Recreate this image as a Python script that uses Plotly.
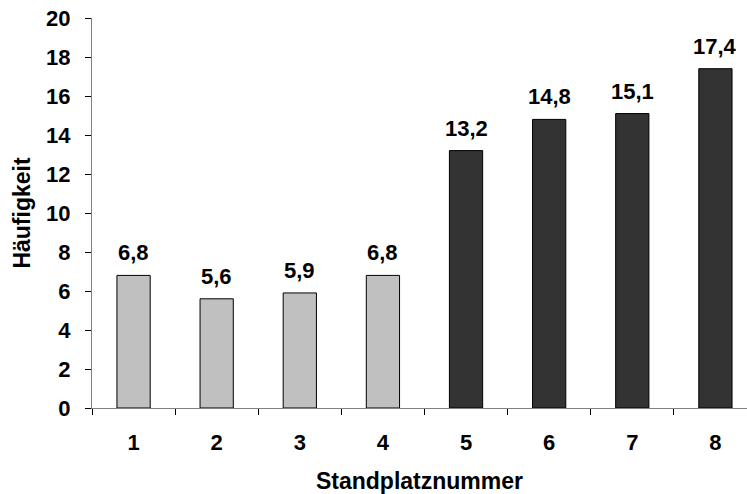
import plotly.graph_objects as go

# Frequency per stand position
positions = ["1", "2", "3", "4", "5", "6", "7", "8"]
frequency = [6.8, 5.6, 5.9, 6.8, 13.2, 14.8, 15.1, 17.4]
bar_colors = ["#C0C0C0"] * 4 + ["#333333"] * 4

FONT = "Arial, 'Liberation Sans', sans-serif"

fig = go.Figure(
    go.Bar(
        x=positions,
        y=frequency,
        marker=dict(color=bar_colors, line=dict(color="#000000", width=1)),
    )
)

# value labels above each bar, comma as decimal separator
for idx, val in enumerate(frequency):
    fig.add_annotation(
        x=idx,
        y=val,
        text=f"{val:.1f}".replace(".", ","),
        showarrow=False,
        yanchor="bottom",
        yshift=8,
        font=dict(family=FONT, size=22, color="#000000", weight="bold"),
    )

fig.update_layout(
    width=747,
    height=494,
    margin=dict(l=92, r=0, t=18, b=86),
    paper_bgcolor="white",
    plot_bgcolor="white",
    bargap=0.6,
    showlegend=False,
    font=dict(family=FONT, color="#000000"),
)

fig.update_xaxes(
    type="category",
    range=[-0.5, 7.38],
    showline=True,
    linecolor="#808080",
    linewidth=1,
    ticks="outside",
    tickson="boundaries",
    ticklen=6,
    tickcolor="#000000",
    tickfont=dict(family=FONT, size=22, color="#000000", weight="bold"),
    ticklabelstandoff=15,
    showgrid=False,
    title=dict(text="Standplatznummer", font=dict(family=FONT, size=23, weight="bold"), standoff=22),
)

fig.update_yaxes(
    range=[0, 20],
    dtick=2,
    showline=True,
    linecolor="#808080",
    linewidth=1,
    ticks="outside",
    ticklen=6,
    tickcolor="#000000",
    tickfont=dict(family=FONT, size=22, color="#000000", weight="bold"),
    ticklabelstandoff=10,
    showgrid=False,
    zeroline=False,
    title=dict(text="Häufigkeit", font=dict(family=FONT, size=23, weight="bold"), standoff=9),
)

fig.write_html("out.html")
